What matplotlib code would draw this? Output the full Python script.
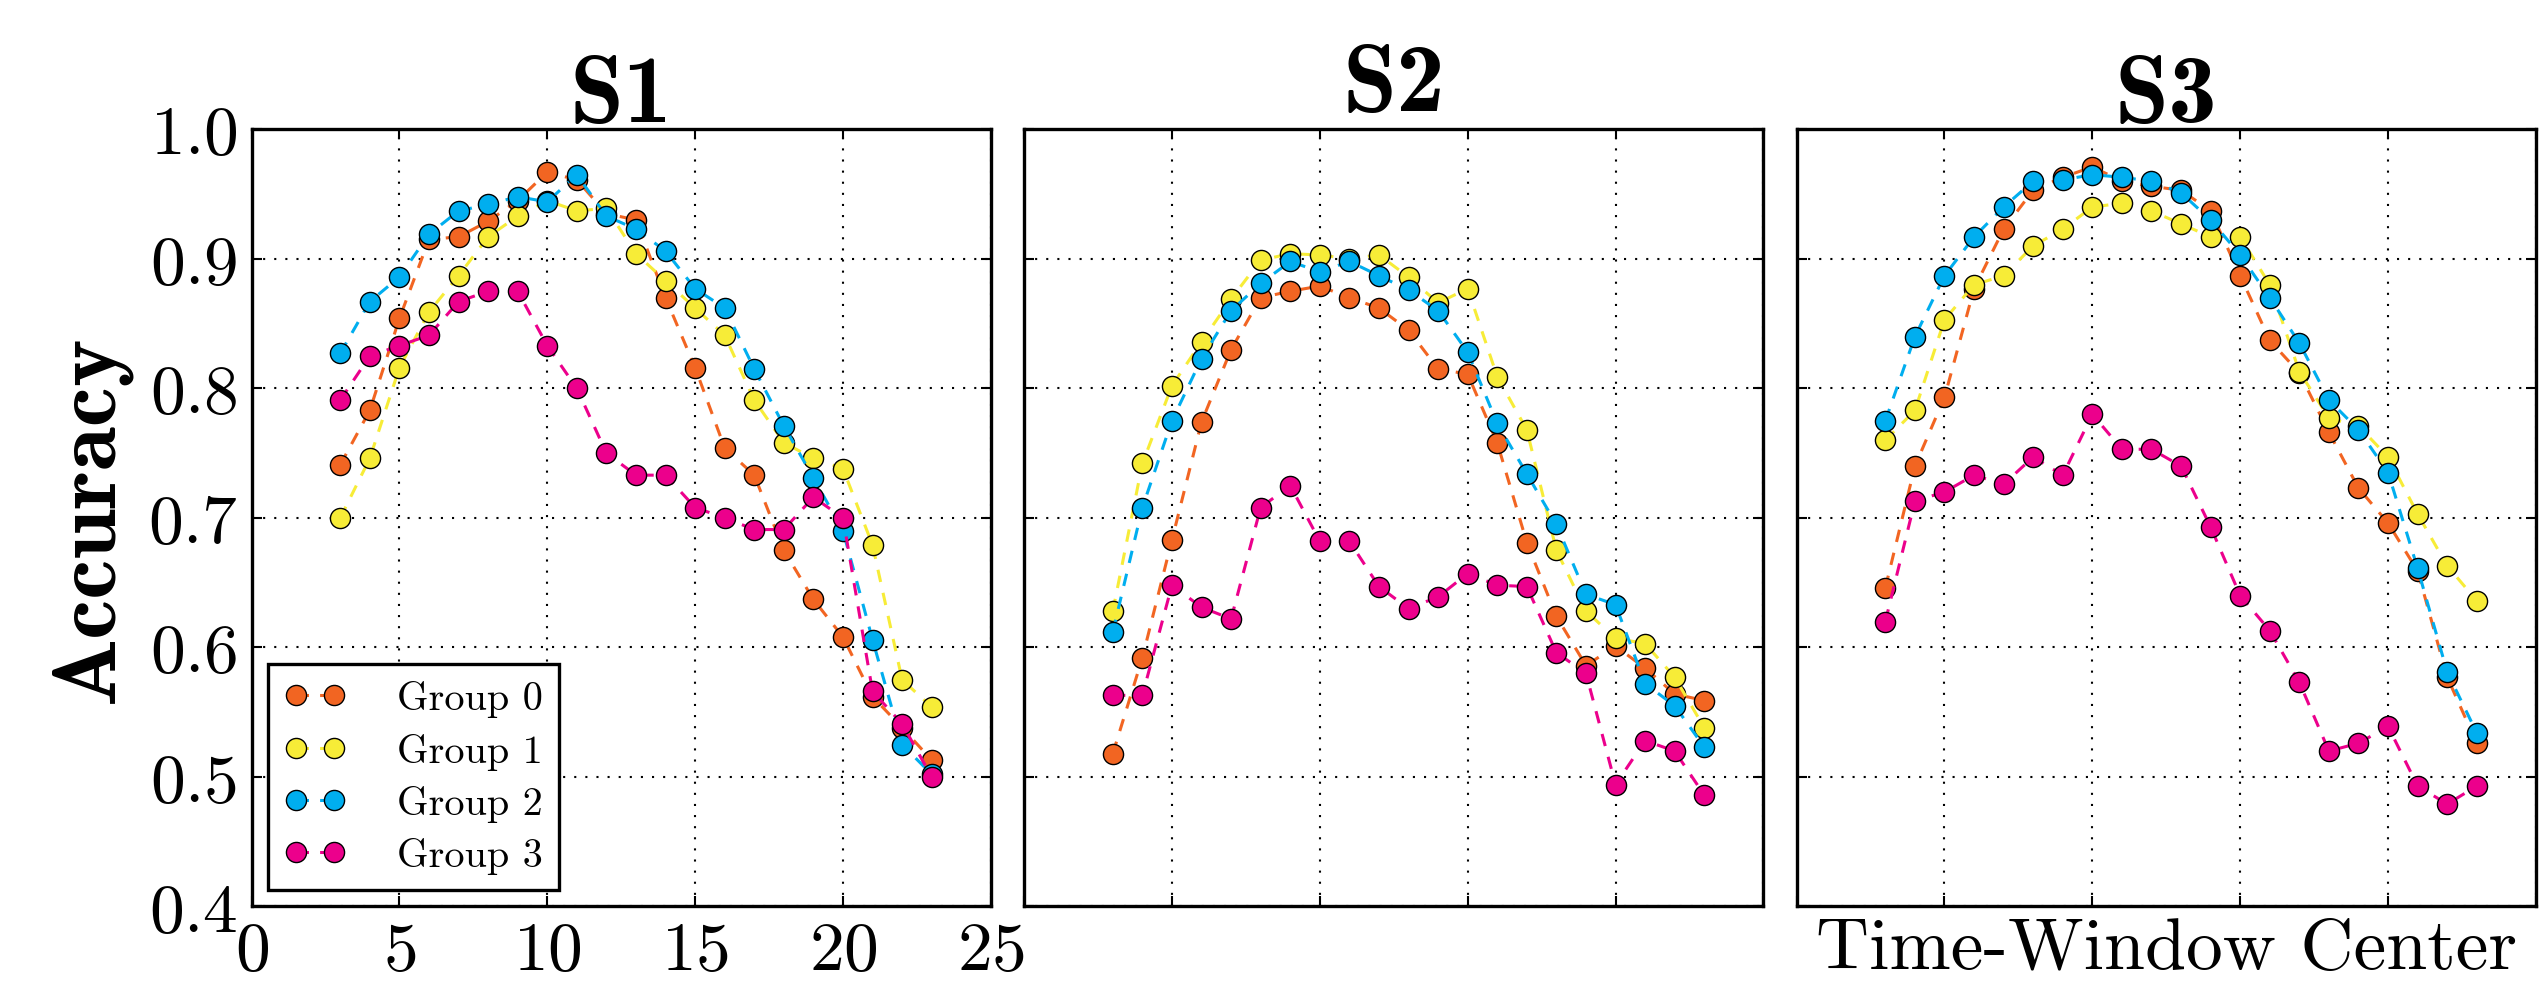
import matplotlib
matplotlib.use('Agg')
import matplotlib.pyplot as plt

plt.rcParams['font.family'] = ['cmr10', 'DejaVu Serif']
plt.rcParams['axes.formatter.use_mathtext'] = True
plt.rcParams['lines.scale_dashes'] = False

# time-window centres
x = list(range(3, 24))

# S1 accuracies per group
s1_g0 = [0.741, 0.783, 0.854, 0.915, 0.917, 0.929, 0.945, 0.967, 0.961, 0.935, 0.930,
         0.870, 0.816, 0.754, 0.733, 0.675, 0.637, 0.608, 0.562, 0.538, 0.513]
s1_g1 = [0.700, 0.746, 0.816, 0.859, 0.887, 0.917, 0.933, 0.945, 0.937, 0.939, 0.904,
         0.883, 0.862, 0.841, 0.791, 0.758, 0.746, 0.738, 0.679, 0.575, 0.554]
s1_g2 = [0.827, 0.867, 0.886, 0.919, 0.937, 0.942, 0.948, 0.944, 0.965, 0.933, 0.923,
         0.906, 0.877, 0.862, 0.815, 0.771, 0.731, 0.690, 0.606, 0.525, 0.502]
s1_g3 = [0.791, 0.825, 0.833, 0.841, 0.867, 0.875, 0.875, 0.833, 0.800, 0.750, 0.733,
         0.733, 0.708, 0.700, 0.691, 0.691, 0.716, 0.700, 0.566, 0.541, 0.500]

# S2 accuracies per group
s2_g0 = [0.518, 0.592, 0.683, 0.774, 0.830, 0.870, 0.875, 0.879, 0.870, 0.862, 0.845,
         0.815, 0.811, 0.758, 0.681, 0.624, 0.586, 0.601, 0.584, 0.564, 0.559]
s2_g1 = [0.628, 0.742, 0.802, 0.836, 0.869, 0.899, 0.904, 0.903, 0.900, 0.903, 0.886,
         0.866, 0.877, 0.809, 0.768, 0.675, 0.628, 0.607, 0.603, 0.577, 0.538]
s2_g2 = [0.612, 0.708, 0.775, 0.823, 0.860, 0.881, 0.898, 0.890, 0.898, 0.887, 0.876,
         0.860, 0.828, 0.773, 0.734, 0.695, 0.641, 0.633, 0.572, 0.555, 0.523]
s2_g3 = [0.563, 0.563, 0.648, 0.631, 0.622, 0.708, 0.725, 0.682, 0.682, 0.647, 0.630,
         0.639, 0.657, 0.648, 0.647, 0.596, 0.580, 0.494, 0.528, 0.520, 0.486]

# S3 accuracies per group
s3_g0 = [0.646, 0.740, 0.793, 0.877, 0.923, 0.953, 0.963, 0.971, 0.960, 0.956, 0.953,
         0.937, 0.887, 0.837, 0.812, 0.766, 0.723, 0.696, 0.659, 0.577, 0.526]
s3_g1 = [0.760, 0.783, 0.853, 0.880, 0.887, 0.910, 0.923, 0.940, 0.943, 0.937, 0.927,
         0.917, 0.917, 0.880, 0.813, 0.777, 0.771, 0.747, 0.703, 0.663, 0.636]
s3_g2 = [0.775, 0.840, 0.887, 0.917, 0.940, 0.960, 0.961, 0.965, 0.963, 0.960, 0.951,
         0.930, 0.903, 0.870, 0.835, 0.791, 0.768, 0.735, 0.661, 0.581, 0.534]
s3_g3 = [0.620, 0.713, 0.720, 0.733, 0.726, 0.747, 0.733, 0.780, 0.753, 0.753, 0.740,
         0.693, 0.640, 0.613, 0.573, 0.520, 0.526, 0.539, 0.493, 0.479, 0.493]

titles = ['S1', 'S2', 'S3']
groups = ['Group 0', 'Group 1', 'Group 2', 'Group 3']
colors = ['#F26522', '#F7EC37', '#00AEEF', '#EC008C']
panels = [[s1_g0, s1_g1, s1_g2, s1_g3],
          [s2_g0, s2_g1, s2_g2, s2_g3],
          [s3_g0, s3_g1, s3_g2, s3_g3]]

fig, axes = plt.subplots(1, 3, figsize=(25.41, 9.95), dpi=100, sharey=True)
fig.subplots_adjust(left=0.099, right=0.998, top=0.869, bottom=0.088, wspace=0.045)

for ax, title, series in zip(axes, titles, panels):
    for vals, col, lab in zip(series, colors, groups):
        ax.plot(x, vals, '--o', color=col, lw=2.2, dashes=(9, 8),
                marker='o', markersize=14.5, markerfacecolor=col,
                markeredgecolor='black', markeredgewidth=1.0, label=lab)
    ax.set_xlim(0, 25)
    ax.set_ylim(0.4, 1.0)
    ax.set_xticks([0, 5, 10, 15, 20, 25])
    ax.set_yticks([0.4, 0.5, 0.6, 0.7, 0.8, 0.9, 1.0])
    ax.grid(True, color='black', linestyle=(0, (1.5, 6.5)), linewidth=1.5)
    ax.tick_params(direction='in', top=True, right=True, length=7, width=1.5,
                   labelsize=50, pad=10)
    for sp in ax.spines.values():
        sp.set_linewidth(2.4)
    ax.set_title(title, fontsize=70, family='cmb10', pad=6)

axes[1].tick_params(labelbottom=False, labelleft=False)
axes[2].tick_params(labelbottom=False, labelleft=False)

axes[0].set_ylabel('Accuracy', fontsize=65, family='cmb10', labelpad=12)
axes[2].set_xlabel('Time-Window Center', fontsize=53, labelpad=8)

leg = axes[0].legend(loc='lower left', numpoints=2, fontsize=29, fancybox=False,
                     framealpha=1, edgecolor='black', borderaxespad=0.4,
                     handlelength=1.55, handletextpad=1.25, labelspacing=0.38)
leg.get_frame().set_linewidth(2.4)

fig.savefig('out.png', dpi=100)
